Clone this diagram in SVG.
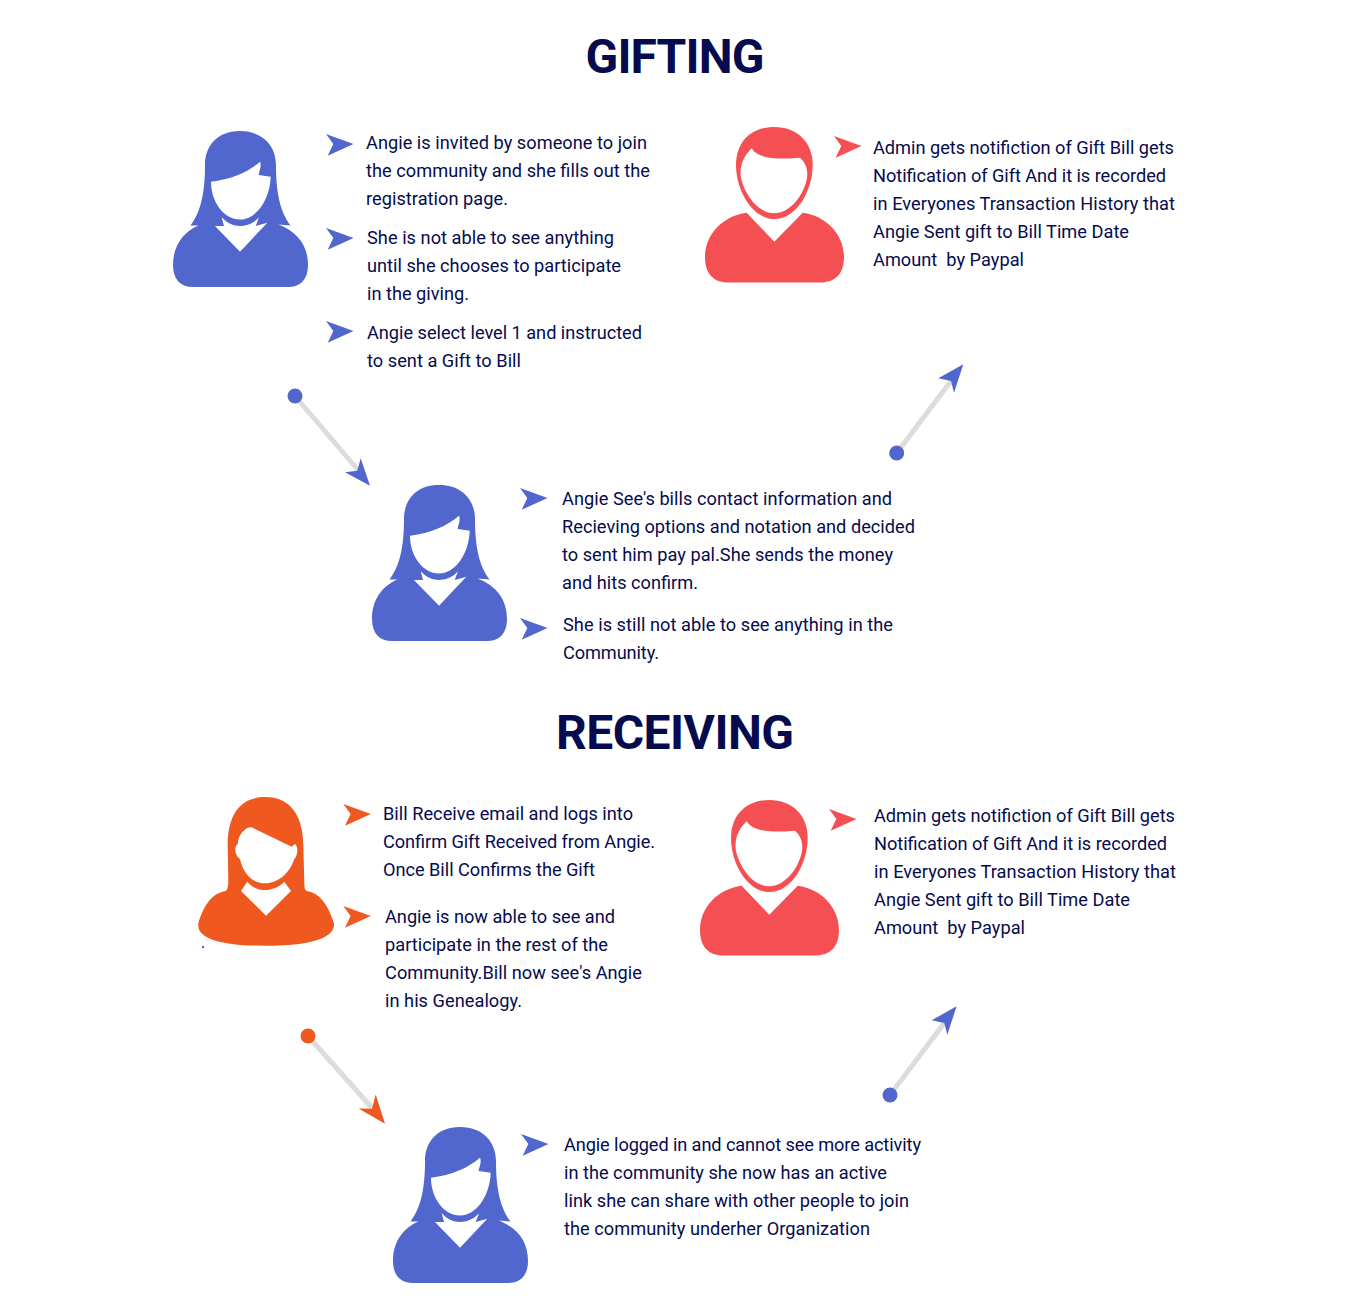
<svg xmlns="http://www.w3.org/2000/svg" width="1349" height="1298" viewBox="0 0 1349 1298">
<style>
text{font-family:Roboto,"Liberation Sans",sans-serif;fill:#050b4e}
.t{font-size:18.2px}
.h{font-size:48px;font-weight:700}
.b{fill:#5267ce}.r{fill:#f45054}.o{fill:#ef581e}
.l{stroke:#dcdcdc;stroke-width:5;fill:none}
</style>
<defs>
<path id="c" d="M0 0L27.500 10L1.700 21.700L7.300 10Z"/>
<g id="woman">
<path class="b" d="M240 131C217 131 205 146 205 165C205 195 200 213 190.500 225.500L198.500 225.500C183 232 173 246 173 265C173 280 181 287 193 287L288 287C300 287 308 280 308 265C308 246 298 232 278.500 224.500L290.500 225.500C281 213 276 195 276 165C276 146 263 131 240 131Z"/>
<path fill="#fff" d="M211 181.700C232 179 248 172 260 161.700C262 166 259 171 258.700 175L270.700 176.700C270 200 256 219.500 240 219.500C224 219.500 211 202 211 181.700Z"/>
<path fill="#fff" d="M221.700 217.300C228 224 234 226 240 226C246 226 253 224 259 217.300L255.700 226L267.300 222.700L240 251.700L215 226L224 226Z"/>
</g>
<g id="man">
<path class="r" d="M774.300 127C751 127 736 142 736 165C736 190 752 219 774.300 219C797 219 812.700 190 812.700 165C812.700 142 797 127 774.300 127Z"/>
<path fill="#fff" d="M751.700 148.300C757 158 775 160 800 157.700C806 163 808 170 807 178C804 195 790 213.300 774.300 213.300C758 213.300 745 195 741 178C739 165 744 156 751.700 148.300Z"/>
<path class="r" d="M746.700 212.700L774.300 241.700L802.700 212.700C827 216 844 235 844 257C844 274 835 282.500 820 282.500L728 282.500C714 282.500 705 274 705 257C705 235 722 216 746.700 212.700Z"/>
</g>
<g id="womanO">
<path class="o" d="M265 797C240 797 227.700 815 227.700 845L228.300 881.700C228 888 227 890 225.700 891C212 893 204 905 198.300 923.300C197 934 208 945.700 265 945.700C322 945.700 335 934 334 923.300C328 905 320 893 306.700 891C305 890 304.300 888 304.300 881.700L303.300 845C303 815 290 797 265 797Z"/>
<path fill="#fff" d="M251.700 827.300L291.700 846.700L295 844C298 846 298.500 855 294.300 859C290 873 278 883.300 265 883.300C252 883.300 243 873 240 859C235 856 233.500 847 237.700 844C238 835 245 827 251.700 827.300Z"/>
<path fill="#fff" d="M247.300 881.700C253 888 259 890 265 890C272 890 279 887 284.300 881.700L291 891L266 915.700L241 891Z"/>
</g>
</defs>

<text class="h" x="585.500" y="73" textLength="179">GIFTING</text>
<text class="h" x="556" y="749" textLength="238">RECEIVING</text>

<g id="connectors">
<g id="arrow-1"><path class="l" d="M295 396L358 470"/><circle class="b" cx="295" cy="396" r="7.500"/><path class="b" d="M370 485.700L345 472.300L357.300 470.700L360.700 458.300Z"/></g>
<g id="arrow-2"><path class="l" d="M896.700 453L951 381"/><circle class="b" cx="896.700" cy="453" r="7.500"/><path class="b" d="M963.300 364.300L938.300 378.300L951 381L954 392.700Z"/></g>
<g id="arrow-3"><path class="l" d="M308 1036L372 1108"/><circle class="o" cx="308" cy="1036" r="7.500"/><path class="o" d="M385 1123.700L358.500 1108.500L372 1108.700L375.700 1094.500Z"/></g>
<g id="arrow-4"><path class="l" d="M890 1095L944.300 1023"/><circle class="b" cx="890" cy="1095" r="7.500"/><path class="b" d="M956.600 1006.300L931.600 1020.300L944.300 1023L947.300 1034.700Z"/></g>
</g>

<g id="node-angie-invited">
<use href="#woman"/>
<use href="#c" class="b" x="326" y="134"/>
<use href="#c" class="b" x="326" y="228"/>
<use href="#c" class="b" x="326" y="321"/>
<text class="t" x="366" y="149" textLength="281">Angie is invited by someone to join</text>
<text class="t" x="366" y="177" textLength="284">the community and she fills out the</text>
<text class="t" x="366" y="205" textLength="142">registration page.</text>
<text class="t" x="367" y="244" textLength="247">She is not able to see anything</text>
<text class="t" x="367" y="272" textLength="254">until she chooses to participate</text>
<text class="t" x="367" y="300" textLength="102">in the giving.</text>
<text class="t" x="367" y="339" textLength="275">Angie select level 1 and instructed</text>
<text class="t" x="367" y="367" textLength="154">to sent a Gift to Bill</text>
</g>

<g id="node-admin-gifting">
<use href="#man"/>
<use href="#c" class="r" x="834" y="136"/>
<text class="t" x="873" y="154" textLength="301">Admin gets notifiction of Gift Bill gets</text>
<text class="t" x="873" y="182" textLength="293">Notification of Gift And it is recorded</text>
<text class="t" x="873" y="210" textLength="302">in Everyones Transaction History that</text>
<text class="t" x="873" y="238" textLength="256">Angie Sent gift to Bill Time Date</text>
<text class="t" x="873" y="266" textLength="151" xml:space="preserve">Amount  by Paypal</text>
</g>

<g id="node-angie-sends">
<use href="#woman" x="199" y="354"/>
<use href="#c" class="b" x="520" y="488"/>
<use href="#c" class="b" x="520" y="618"/>
<text class="t" x="562" y="505" textLength="330">Angie See's bills contact information and</text>
<text class="t" x="562" y="533" textLength="353">Recieving options and notation and decided</text>
<text class="t" x="562" y="561" textLength="331">to sent him pay pal.She sends the money</text>
<text class="t" x="562" y="589" textLength="136">and hits confirm.</text>
<text class="t" x="563" y="631" textLength="330">She is still not able to see anything in the</text>
<text class="t" x="563" y="659" textLength="96">Community.</text>
</g>

<g id="node-bill">
<use href="#womanO"/>
<circle class="b" cx="203" cy="947" r="1.200"/>
<use href="#c" class="o" x="343.300" y="804"/>
<use href="#c" class="o" x="343.300" y="906"/>
<text class="t" x="383" y="820" textLength="250">Bill Receive email and logs into</text>
<text class="t" x="383" y="848" textLength="272">Confirm Gift Received from Angie.</text>
<text class="t" x="383" y="876" textLength="212">Once Bill Confirms the Gift</text>
<text class="t" x="385" y="923" textLength="230">Angie is now able to see and</text>
<text class="t" x="385" y="951" textLength="223">participate in the rest of the</text>
<text class="t" x="385" y="979" textLength="257">Community.Bill now see's Angie</text>
<text class="t" x="385" y="1007" textLength="137">in his Genealogy.</text>
</g>

<g id="node-admin-receiving">
<use href="#man" x="-5" y="673"/>
<use href="#c" class="r" x="829" y="809"/>
<text class="t" x="874" y="822" textLength="301">Admin gets notifiction of Gift Bill gets</text>
<text class="t" x="874" y="850" textLength="293">Notification of Gift And it is recorded</text>
<text class="t" x="874" y="878" textLength="302">in Everyones Transaction History that</text>
<text class="t" x="874" y="906" textLength="256">Angie Sent gift to Bill Time Date</text>
<text class="t" x="874" y="934" textLength="151" xml:space="preserve">Amount  by Paypal</text>
</g>

<g id="node-angie-link">
<use href="#woman" x="220" y="996"/>
<use href="#c" class="b" x="521" y="1134"/>
<text class="t" x="564" y="1151" textLength="357">Angie logged in and cannot see more activity</text>
<text class="t" x="564" y="1179" textLength="323">in the community she now has an active</text>
<text class="t" x="564" y="1207" textLength="345">link she can share with other people to join</text>
<text class="t" x="564" y="1235" textLength="306">the community underher Organization</text>
</g>
</svg>
